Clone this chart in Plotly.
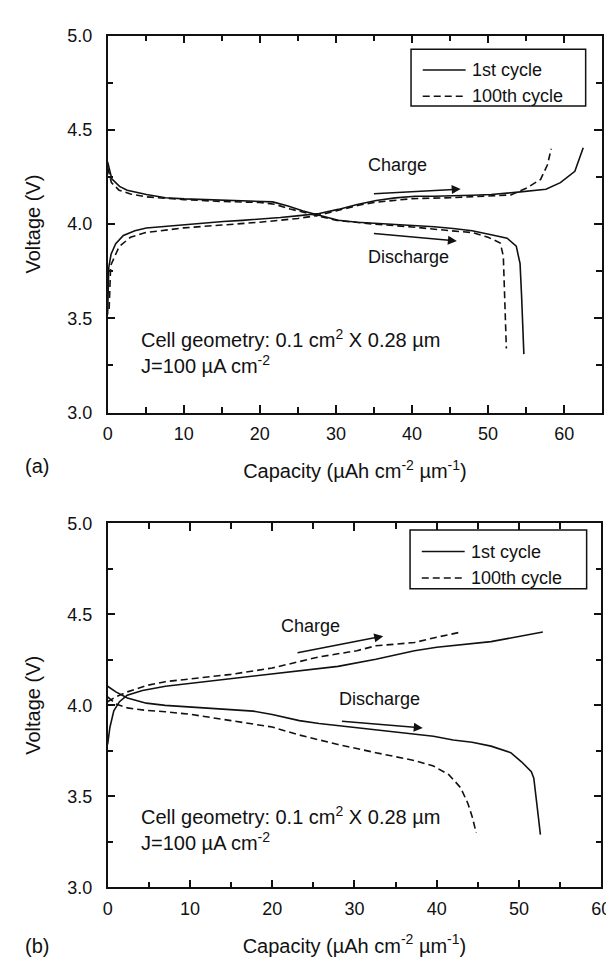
import plotly.graph_objects as go

# ---------------- Data (a) ----------------
a_c1_charge_x = [0.0, 0.15, 0.45, 1.06, 2.07, 3.58, 5.09, 7.6, 10.1, 12.6, 15.2, 17.7, 20.2, 22.7, 25.2, 27.8,
                 30.3, 32.8, 35.3, 37.8, 40.4, 42.9, 47.9, 50.4, 53.3, 55.5, 57.6, 59.5, 61.4, 62.5]
a_c1_charge_y = [3.52, 3.77, 3.84, 3.896, 3.94, 3.965, 3.979, 3.988, 3.997, 4.003, 4.014, 4.02, 4.026, 4.035, 4.045, 4.056,
                 4.078, 4.104, 4.125, 4.139, 4.148, 4.148, 4.153, 4.157, 4.167, 4.175, 4.185, 4.22, 4.28, 4.405]
a_c1_dis_x = [0.0, 0.55, 1.56, 2.57, 5.1, 7.6, 10.1, 15.2, 20.2, 21.7, 23.7, 25.7, 27.8, 30.3, 32.8, 37.8,
              42.9, 45.4, 47.9, 50.4, 52.5, 53.7, 54.2, 54.4, 54.6, 54.7]
a_c1_dis_y = [4.33, 4.24, 4.2, 4.18, 4.157, 4.14, 4.134, 4.127, 4.12, 4.118, 4.096, 4.07, 4.047, 4.02, 4.01, 4.0,
              3.986, 3.977, 3.965, 3.944, 3.925, 3.883, 3.79, 3.62, 3.40, 3.31]
a_c100_charge_x = [0.2, 0.4, 1.5, 3.0, 5.0, 10.0, 15.0, 20.0, 25.0, 27.5, 30.0, 33.0, 35.0, 40.0, 45.0, 50.0,
                   53.0, 55.0, 56.9, 57.8, 58.3]
a_c100_charge_y = [3.55, 3.78, 3.88, 3.93, 3.955, 3.98, 3.995, 4.01, 4.03, 4.045, 4.07, 4.1, 4.115, 4.135, 4.14, 4.15,
                   4.155, 4.19, 4.237, 4.315, 4.40]
a_c100_dis_x = [0.0, 0.5, 1.5, 3.0, 5.0, 10.0, 15.0, 20.0, 22.0, 24.0, 26.0, 28.0, 30.0, 35.0, 40.0, 45.0,
                48.0, 50.0, 51.6, 52.0, 52.2, 52.4]
a_c100_dis_y = [4.30, 4.22, 4.18, 4.16, 4.145, 4.13, 4.12, 4.115, 4.105, 4.08, 4.06, 4.04, 4.02, 4.0, 3.985, 3.965,
                3.955, 3.93, 3.90, 3.83, 3.60, 3.34]

# ---------------- Data (b) ----------------
b_c1_charge_x = [0.0, 0.28, 0.75, 1.44, 2.38, 4.24, 7.03, 10.0, 15.0, 20.0, 23.3, 28.0, 32.6, 37.3, 40.0, 44.3,
                 46.6, 49.0, 52.9]
b_c1_charge_y = [3.785, 3.88, 3.97, 4.02, 4.056, 4.082, 4.105, 4.12, 4.147, 4.17, 4.187, 4.214, 4.253, 4.30, 4.319, 4.34,
                 4.35, 4.37, 4.403]
b_c1_dis_x = [0.0, 1.0, 2.4, 4.7, 7.0, 10.0, 15.0, 17.7, 20.0, 23.3, 25.7, 30.3, 35.0, 39.6, 42.0, 44.3,
              46.6, 49.0, 50.3, 51.5, 51.8, 52.1, 52.4, 52.6]
b_c1_dis_y = [4.105, 4.074, 4.04, 4.012, 4.0, 3.99, 3.977, 3.968, 3.95, 3.916, 3.90, 3.877, 3.855, 3.83, 3.81, 3.797,
              3.776, 3.74, 3.69, 3.636, 3.60, 3.496, 3.37, 3.29]
b_c100_charge_x = [0.0, 1.0, 2.4, 4.7, 7.0, 10.0, 15.0, 20.0, 23.3, 25.7, 30.3, 32.6, 35.0, 37.3, 39.6, 42.7]
b_c100_charge_y = [4.02, 4.047, 4.074, 4.109, 4.13, 4.144, 4.17, 4.205, 4.24, 4.266, 4.30, 4.327, 4.336, 4.345, 4.37, 4.40]
b_c100_dis_x = [0.0, 1.0, 2.4, 4.7, 7.0, 10.0, 15.0, 20.0, 23.3, 28.0, 32.6, 35.0, 37.3, 39.6, 41.5, 42.9,
                43.8, 44.3, 44.8]
b_c100_dis_y = [4.047, 4.007, 3.986, 3.972, 3.965, 3.951, 3.916, 3.881, 3.837, 3.785, 3.74, 3.72, 3.697, 3.667, 3.618, 3.548,
                3.46, 3.39, 3.30]

series_names = ["1st cycle", "100th cycle"]
x_tick_vals = [0, 10, 20, 30, 40, 50, 60]
x_tick_text = ["0", "10", "20", "30", "40", "50", "60"]
y_tick_vals = [3.0, 3.5, 4.0, 4.5, 5.0]
y_tick_text = ["3.0", "3.5", "4.0", "4.5", "5.0"]

FONT = "Liberation Sans, Arial, Helvetica, sans-serif"
INK = "#111111"
DASH = "7px,4px"
W, H = 614, 958

fig = go.Figure()


def add_pair(cx, cy, dx, dy, name, dash, xa, ya):
    fig.add_trace(go.Scatter(
        x=cx + [None] + dx, y=cy + [None] + dy, mode="lines", name=name,
        line=dict(color=INK, width=1.6, dash=dash), connectgaps=False,
        xaxis=xa, yaxis=ya, showlegend=False))


add_pair(a_c1_charge_x, a_c1_charge_y, a_c1_dis_x, a_c1_dis_y, series_names[0], "solid", "x", "y")
add_pair(a_c100_charge_x, a_c100_charge_y, a_c100_dis_x, a_c100_dis_y, series_names[1], DASH, "x", "y")
add_pair(b_c1_charge_x, b_c1_charge_y, b_c1_dis_x, b_c1_dis_y, series_names[0], "solid", "x2", "y2")
add_pair(b_c100_charge_x, b_c100_charge_y, b_c100_dis_x, b_c100_dis_y, series_names[1], DASH, "x2", "y2")

# plot frames in pixels (left, right, top, bottom)
top_box = (97, 604, 18, 403)
bot_box = (97, 603, 516, 888)


def px(xp):
    return xp / W


def py(yp):
    return 1 - yp / H


def dom(box):
    l, r, t, b = box
    return [px(l), px(r)], [py(b), py(t)]


xd1, yd1 = dom(top_box)
xd2, yd2 = dom(bot_box)

xtitle = "Capacity (µAh cm<sup>-2</sup> µm<sup>-1</sup>)"

common_x = dict(
    showline=True, linecolor=INK, linewidth=1.5, mirror="ticks", ticks="inside", ticklen=8, tickwidth=1.5,
    tickcolor=INK, tickmode="array", tickvals=x_tick_vals, ticktext=x_tick_text,
    minor=dict(ticks="inside", tickmode="linear", tick0=x_tick_vals[0],
               dtick=(x_tick_vals[1] - x_tick_vals[0]) / 2, ticklen=6, tickwidth=1.5, tickcolor=INK,
               showgrid=False),
    showgrid=False, zeroline=False, ticklabelstandoff=4,
    tickfont=dict(family=FONT, size=18, color=INK),
    title=dict(text=xtitle, font=dict(family=FONT, size=20, color=INK), standoff=21),
)
common_y = dict(
    showline=True, linecolor=INK, linewidth=1.5, mirror="ticks", ticks="inside", ticklen=8, tickwidth=1.5,
    tickcolor=INK, tickmode="array", tickvals=y_tick_vals, ticktext=y_tick_text,
    minor=dict(ticks="inside", tickmode="linear", tick0=y_tick_vals[0],
               dtick=(y_tick_vals[1] - y_tick_vals[0]) / 2, ticklen=6, tickwidth=1.5, tickcolor=INK,
               showgrid=False),
    range=[y_tick_vals[0], y_tick_vals[-1]], showgrid=False, zeroline=False, ticklabelstandoff=10,
    tickfont=dict(family=FONT, size=18, color=INK),
    title=dict(text="Voltage (V)", font=dict(family=FONT, size=20, color=INK), standoff=21),
)

fig.update_layout(
    width=W, height=H, margin=dict(l=0, r=0, t=0, b=0),
    paper_bgcolor="white", plot_bgcolor="white",
    font=dict(family=FONT, size=18, color=INK),
    xaxis=dict(domain=xd1, anchor="y", range=[0, 65], **common_x),
    yaxis=dict(domain=yd1, anchor="x", **common_y),
    xaxis2=dict(domain=xd2, anchor="y2", range=[0, 60], **common_x),
    yaxis2=dict(domain=yd2, anchor="x2", **common_y),
    showlegend=False,
)

ann = []
shapes = []
txt_font = dict(family=FONT, size=18, color=INK)
big_font = dict(family=FONT, size=20, color=INK)


def arrow(x0, y0, x1, y1, xr, yr):
    ann.append(dict(x=x1, y=y1, ax=x0, ay=y0, xref=xr, yref=yr, axref=xr, ayref=yr, text="",
                    showarrow=True, arrowhead=2, arrowsize=1.2, arrowwidth=1.5, arrowcolor=INK))


def legend_box(l, r, t, b, row1, row2):
    shapes.append(dict(type="rect", xref="paper", yref="paper", x0=px(l), x1=px(r), y0=py(b), y1=py(t),
                       line=dict(color=INK, width=1.5), fillcolor="white", layer="above"))
    for yy, dash, name in [(row1, "solid", series_names[0]), (row2, "dash", series_names[1])]:
        shapes.append(dict(type="line", xref="paper", yref="paper", x0=px(l + 12), x1=px(l + 56),
                           y0=py(yy), y1=py(yy),
                           line=dict(color=INK, width=1.5, dash=DASH if dash == "dash" else "solid"),
                           layer="above"))
        ann.append(dict(x=px(l + 60), y=py(yy), xref="paper", yref="paper", xanchor="left", yanchor="middle",
                        text=name, showarrow=False, font=txt_font))


cell_text = "Cell geometry: 0.1 cm<sup>2</sup> X 0.28 µm<br>J=100 µA cm<sup>-2</sup>"

# (a)
legend_box(408, 587, 32, 90, 53, 80)
ann.append(dict(x=38.1, y=4.313, xref="x", yref="y", text="Charge", showarrow=False, font=txt_font))
ann.append(dict(x=39.6, y=3.826, xref="x", yref="y", text="Discharge", showarrow=False, font=txt_font))
arrow(34.8, 4.160, 46.4, 4.186, "x", "y")
arrow(34.8, 3.951, 45.9, 3.910, "x", "y")
ann.append(dict(x=4.1, y=3.322, xref="x", yref="y", xanchor="left", yanchor="middle", align="left",
                showarrow=False, font=big_font, text=cell_text))
ann.append(dict(x=px(25), y=py(458), xref="paper", yref="paper", xanchor="center", yanchor="middle",
                text="(a)", showarrow=False, font=big_font))

# (b)
legend_box(407, 588, 523, 583, 545, 572)
ann.append(dict(x=24.7, y=4.436, xref="x2", yref="y2", text="Charge", showarrow=False, font=txt_font))
ann.append(dict(x=33.1, y=4.033, xref="x2", yref="y2", text="Discharge", showarrow=False, font=txt_font))
arrow(22.9, 4.287, 33.5, 4.38, "x2", "y2")
arrow(28.3, 3.914, 38.3, 3.876, "x2", "y2")
ann.append(dict(x=3.8, y=3.321, xref="x2", yref="y2", xanchor="left", yanchor="middle", align="left",
                showarrow=False, font=big_font, text=cell_text))
ann.append(dict(x=px(25), y=py(948), xref="paper", yref="paper", xanchor="center", yanchor="middle",
                text="(b)", showarrow=False, font=big_font))

fig.update_layout(annotations=ann, shapes=shapes)

fig.write_html("out.html")
